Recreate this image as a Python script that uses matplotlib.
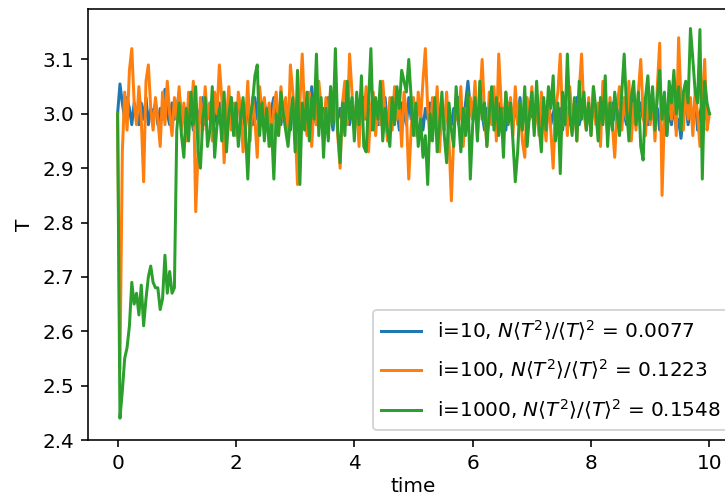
import numpy as np
import matplotlib
matplotlib.use("Agg")
import matplotlib.pyplot as plt

#temperature traces for the three runs, one value every 0.04 time units
T_i10 = [
    3.00, 3.055, 3.02, 2.99, 3.03, 3.01, 2.98, 3.02, 3.00, 2.98, 3.02, 2.99, 3.03, 2.98, 3.01, 3.00, 3.02, 2.98, 3.01, 2.99, 3.045, 3.00, 2.98, 3.02, 2.99, 3.01,
    3.04, 2.99, 3.01, 2.98, 3.02, 3.00, 2.97, 3.02, 2.99, 3.01, 3.03, 2.98, 3.00, 3.02, 2.99, 3.01, 2.98, 3.02, 3.00, 2.97, 3.01, 2.99, 3.03, 2.98, 3.00,
    3.02, 2.99, 3.01, 2.97, 3.02, 3.00, 2.98, 3.03, 2.99, 3.01, 2.98, 3.02, 3.00, 2.97, 3.01, 3.03, 2.99, 3.00, 2.98, 3.02, 2.99, 3.01, 2.97, 3.02, 3.00,
    2.98, 3.01, 2.99, 3.02, 2.97, 2.967, 3.05, 3.00, 2.98, 3.02, 2.99, 3.01, 2.98, 3.03, 3.00, 2.97, 3.02, 2.99, 3.01, 2.98, 3.02, 3.00, 2.98, 3.01, 2.99,
    3.02, 2.98, 3.00, 3.03, 2.99, 3.01, 2.97, 3.02, 3.00, 2.98, 3.01, 2.99, 3.03, 2.98, 3.00, 3.02, 2.99, 3.01, 2.97, 3.02, 3.00, 2.98, 3.03, 2.99, 3.01,
    2.98, 3.02, 3.00, 2.97, 3.01, 2.99, 3.02, 2.98, 3.00, 3.03, 2.99, 3.01, 2.97, 3.02, 3.00, 2.98, 3.01, 2.99, 3.03, 3.00, 2.98, 3.02, 3.06, 3.01, 2.99,
    3.01, 2.98, 3.02, 3.00, 2.97, 3.01, 2.99, 3.03, 2.98, 3.00, 3.02, 2.99, 3.01, 2.97, 3.02, 3.00, 2.98, 3.01, 2.99, 3.03, 2.98, 3.00, 3.02, 2.99, 3.01,
    2.98, 3.02, 3.00, 2.97, 3.01, 2.99, 3.03, 2.98, 3.00, 3.02, 2.99, 3.01, 2.97, 3.02, 3.00, 2.98, 3.01, 2.99, 3.03, 2.98, 3.00, 3.02, 2.99, 3.01, 2.98,
    3.02, 3.00, 2.97, 3.01, 2.99, 3.03, 2.98, 3.00, 3.02, 2.99, 3.01, 2.97, 3.02, 3.00, 2.98, 3.01, 2.99, 3.03, 2.98, 3.00, 3.02, 2.99, 3.01, 2.98, 3.00,
    3.02, 2.99, 3.01, 2.97, 3.02, 3.00, 2.96, 3.01, 2.98, 3.02, 2.97, 2.99, 2.955, 3.00, 3.02, 2.98, 3.01, 2.99, 3.03, 2.97, 3.00, 3.02, 2.99, 3.01, 3.00,
]

T_i100 = [
    3.00, 2.53, 2.93, 3.04, 2.97, 3.08, 3.12, 3.02, 2.98, 3.05, 2.99, 2.875, 3.06, 3.09, 3.01, 2.97, 3.03, 2.99, 2.94, 3.04, 2.98, 3.06, 3.00, 2.96, 3.03, 2.99,
    3.05, 2.97, 3.02, 2.95, 3.04, 2.99, 3.06, 2.82, 2.93, 3.03, 2.97, 3.05, 2.99, 3.02, 2.95, 3.04, 3.00, 3.09, 3.03, 2.91, 2.99, 3.05, 2.97, 3.02, 2.96,
    3.04, 3.01, 2.93, 2.98, 3.06, 2.95, 3.03, 2.99, 2.92, 3.05, 3.00, 3.03, 2.97, 3.02, 2.94, 3.01, 3.04, 2.96, 3.05, 2.99, 3.03, 2.95, 3.09, 3.04, 2.98,
    2.87, 3.02, 3.11, 3.00, 2.96, 3.04, 2.94, 3.02, 2.98, 3.06, 3.01, 2.95, 3.03, 2.97, 3.05, 2.99, 3.03, 2.96, 2.90, 3.02, 3.06, 2.98, 3.11, 3.04, 2.97,
    3.02, 2.94, 3.03, 2.99, 3.05, 2.93, 3.01, 3.04, 2.96, 3.02, 2.98, 3.06, 3.00, 2.95, 3.03, 2.97, 3.05, 2.99, 3.02, 2.94, 3.04, 3.00, 2.88, 2.97, 3.03,
    2.96, 3.04, 2.99, 3.06, 3.12, 3.01, 2.95, 3.03, 2.98, 3.05, 2.93, 3.02, 2.97, 3.04, 2.95, 2.84, 2.96, 3.03, 2.98, 3.05, 2.94, 3.01, 2.97, 3.03, 2.99,
    3.06, 2.96, 3.02, 3.10, 3.00, 2.94, 3.04, 2.98, 3.05, 2.95, 3.11, 3.02, 2.97, 3.04, 2.99, 3.03, 2.96, 3.05, 2.98, 3.02, 2.95, 2.92, 3.03, 2.99, 3.05,
    2.97, 3.02, 2.96, 3.04, 3.00, 2.95, 3.03, 2.97, 2.90, 3.01, 3.04, 3.11, 2.98, 3.03, 2.96, 3.05, 2.99, 3.02, 2.95, 3.04, 3.11, 3.00, 2.97, 3.03, 2.96,
    3.05, 2.98, 3.02, 2.94, 3.06, 3.00, 2.96, 3.03, 2.98, 2.92, 3.01, 3.05, 2.97, 3.03, 2.99, 3.06, 2.95, 3.02, 2.97, 3.04, 3.10, 3.00, 2.96, 3.04, 2.98,
    3.03, 2.95, 3.05, 3.13, 2.85, 3.00, 2.97, 3.04, 2.99, 3.06, 2.96, 3.14, 3.02, 2.97, 3.05, 2.99, 3.03, 2.96, 3.04, 3.00, 2.94, 3.02, 3.10, 2.97, 3.00,
]

T_i1000 = [
    3.00, 2.44, 2.49, 2.55, 2.57, 2.61, 2.69, 2.65, 2.67, 2.63, 2.685, 2.61, 2.66, 2.70, 2.72, 2.69, 2.68, 2.68, 2.64, 2.66, 2.74, 2.67, 2.71, 2.67, 2.68, 2.97,
    3.02, 2.96, 2.92, 3.01, 2.95, 3.04, 2.98, 3.05, 2.93, 2.90, 2.99, 3.03, 2.94, 2.97, 3.05, 2.92, 2.98, 3.01, 2.95, 3.04, 2.93, 3.00, 3.03, 2.96, 3.02,
    2.94, 2.99, 3.03, 2.97, 2.88, 2.99, 3.02, 3.07, 3.09, 2.96, 3.02, 2.95, 3.01, 2.94, 2.98, 2.88, 3.00, 2.96, 3.04, 3.00, 2.97, 2.94, 2.99, 3.03, 2.93,
    3.08, 2.87, 3.02, 2.97, 3.04, 2.95, 3.03, 2.99, 3.11, 2.96, 3.03, 2.92, 3.01, 2.95, 3.05, 2.98, 3.12, 2.97, 2.91, 3.02, 2.96, 3.06, 2.99, 3.03, 2.95,
    3.04, 2.98, 3.07, 2.94, 2.93, 3.02, 3.12, 2.97, 3.03, 2.99, 3.06, 2.95, 3.01, 2.97, 2.94, 3.03, 2.98, 3.05, 3.01, 3.08, 3.06, 3.04, 3.10, 3.03, 2.96,
    3.02, 2.94, 2.99, 2.92, 2.96, 2.87, 3.00, 2.95, 3.03, 2.93, 2.98, 3.04, 2.96, 2.91, 3.02, 2.97, 2.94, 3.05, 2.99, 2.93, 3.01, 2.96, 3.04, 2.88, 2.98,
    3.03, 2.95, 3.06, 2.99, 3.02, 2.94, 3.00, 3.05, 2.97, 3.03, 2.96, 3.01, 2.92, 3.04, 2.98, 3.02, 2.95, 2.875, 2.93, 3.02, 2.97, 3.05, 2.94, 3.00, 3.04,
    2.96, 3.06, 2.98, 2.93, 3.03, 2.97, 3.05, 3.01, 3.07, 2.95, 3.02, 2.89, 3.04, 2.98, 3.11, 3.00, 2.96, 3.03, 2.95, 3.06, 2.99, 3.04, 2.97, 3.02, 2.96,
    3.05, 3.01, 2.95, 3.03, 2.98, 3.07, 2.94, 3.02, 2.97, 3.04, 3.00, 2.96, 3.04, 3.11, 3.01, 2.95, 3.03, 3.06, 2.98, 3.04, 2.94, 2.915, 3.03, 3.07, 2.99,
    3.05, 2.97, 3.03, 3.08, 2.99, 3.04, 2.96, 3.06, 3.02, 3.08, 3.00, 3.05, 2.97, 3.04, 3.06, 3.02, 3.157, 3.10, 3.04, 3.02, 3.155, 2.88, 3.06, 3.02, 3.00,
]

runs = [10, 100, 1000]
ratios = [0.0077, 0.1223, 0.1548]

time = np.linspace(0, 10, len(T_i10))

DPI = 144
fig = plt.figure(figsize=(725 / DPI, 496 / DPI), dpi=DPI)
ax = fig.add_axes([88 / 725, 56 / 496, 651 / 725, 431 / 496])

for n, T, r in zip(runs, [T_i10, T_i100, T_i1000], ratios):
    label = r'i=%d, $N\langle T^2\rangle/\langle T\rangle^2$ = %.4f' % (n, r)
    ax.plot(time, T, label=label)

ax.set_xlabel('time', labelpad=2)
ax.set_ylabel('T')
ax.set_xticks([0, 2, 4, 6, 8, 10])
ax.set_yticks([2.4, 2.5, 2.6, 2.7, 2.8, 2.9, 3.0, 3.1])
ax.legend(loc='lower right', labelspacing=0.75)

plt.savefig('out.png', dpi=DPI)
plt.close(fig)
